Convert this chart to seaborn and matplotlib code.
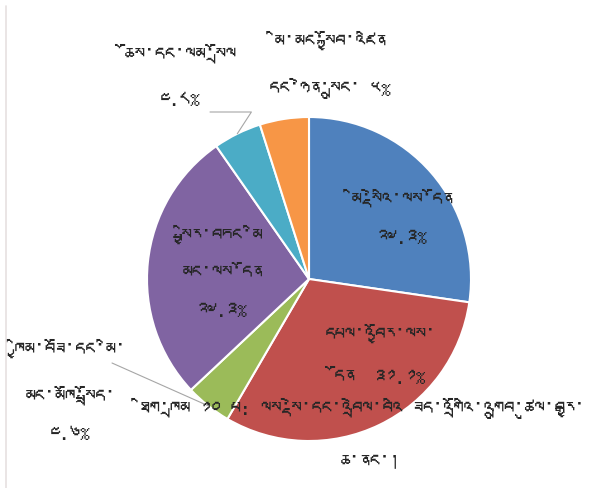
import matplotlib
matplotlib.use('Agg')
import numpy as np
import matplotlib.pyplot as plt
import seaborn as sns
from matplotlib import font_manager
from matplotlib.ft2font import FT2Font
from matplotlib.lines import Line2D

# Expenditure shares by sector (clockwise from 12 o'clock)
sectors = ['མི་སྡེའི་ལས་དོན',
           'དཔལ་འབྱོར་ལས་དོན',
           'ཁྱིམ་བཟོ་དང་མི་མང་མཁོ་སྤྲོད་',
           'སྤྱིར་བཏང་མི་མང་ལས་དོན',
           'ཆོས་དང་ལམ་སྲོལ',
           'མི་མང་སྐྱོབ་འཛིན་དང་ཉེན་སྲུང་']
shares = [27.3, 31.1, 4.6, 27.3, 4.8, 4.9]
share_labels = ['༢༧.༣%', '༣༡.༡%', '༤.༦%', '༢༧.༣%', '༤.༨%', '༥%']
colors = ['#4F81BD', '#C0504D', '#9BBB59', '#8064A2', '#4BACC6', '#F79646']
caption = ['ཐིག་ཁྲམ ༡༠ པ: ལས་སྡེ་དང་འབྲེལ་བའི ཟད་འགྲོའི་འགྲུབ་ཚུལ་བརྒྱ་', 'ཆ་ནང་།']


def find_tibetan_font():
    # pick any installed font that actually has Tibetan glyphs
    for f in font_manager.fontManager.ttflist:
        try:
            if FT2Font(f.fname).get_char_index(0x0F40):
                return f.name
        except Exception:
            pass
    return None


def main():
    sns.set_theme(style='white')
    tib = find_tibetan_font()
    fams = [tib, 'DejaVu Sans'] if tib else ['DejaVu Sans']
    plt.rcParams['font.family'] = fams

    fig = plt.figure(figsize=(6.05, 4.89), dpi=100)
    ax = fig.add_axes([0, 0, 1, 1])

    wedges, _ = ax.pie(shares, colors=colors, startangle=90, counterclock=False,
                       radius=1, wedgeprops=dict(edgecolor='white', linewidth=1.5))

    # pie centre at (309, 280) px, radius 162 px (limits must come after pie())
    cx, cy, r = 309, 280, 162
    ax.set_xlim(-cx / r, (605 - cx) / r)
    ax.set_ylim((cy - 489) / r, cy / r)
    ax.set_aspect('equal')
    ax.axis('off')

    def px(x, y):
        return (x - cx) / r, (cy - y) / r

    fs = 14.5
    txt = dict(fontsize=fs, color='#262626', ha='center', va='center', linespacing=2.5)
    ax.text(*px(402, 218), f'{sectors[0]}\n{share_labels[0]}', **txt)
    ax.text(*px(380, 355), f'དཔལ་འབྱོར་ལས་\nདོན  {share_labels[1]}', **txt)
    ax.text(*px(70, 391), f'ཁྱིམ་བཟོ་དང་མི་\nམང་མཁོ་སྤྲོད་\n{share_labels[2]}', **txt)
    ax.text(*px(222, 272), f'སྤྱིར་བཏང་མི\nམང་ལས་དོན\n{share_labels[3]}', **txt)
    ax.text(*px(180, 76), f'{sectors[4]}\n{share_labels[4]}', **{**txt, 'linespacing': 3.0})
    ax.text(*px(330, 65), f'མི་མང་སྐྱོབ་འཛིན\nདང་ཉེན་སྲུང་ {share_labels[5]}', **txt)

    # leader lines for the two small outside labels
    def edge_point(w):
        a = np.deg2rad((w.theta1 + w.theta2) / 2)
        return np.cos(a), np.sin(a)

    ax.annotate('', xy=edge_point(wedges[2]), xytext=px(112, 364),
                arrowprops=dict(arrowstyle='-', color='#A6A6A6', lw=0.8,
                                shrinkA=0, shrinkB=0))
    ax.annotate('', xy=edge_point(wedges[4]), xytext=px(210, 113),
                arrowprops=dict(arrowstyle='-', color='#A6A6A6', lw=0.8,
                                shrinkA=0, shrinkB=0,
                                connectionstyle='angle,angleA=0,angleB=57,rad=0'))

    # caption that overlaps the bottom of the pie
    ax.text(*px(140, 408), caption[0], fontsize=fs, color='#262626', ha='left', va='center')
    ax.text(*px(370, 463), caption[1], fontsize=fs, color='#262626', ha='center', va='center')

    # chart frame edge on the left
    fig.add_artist(Line2D([5.5 / 605, 5.5 / 605], [0, 1 - 7 / 489], color='#E6E0E0', lw=1.2))

    fig.savefig('out.png', dpi=100)


if __name__ == '__main__':
    main()
